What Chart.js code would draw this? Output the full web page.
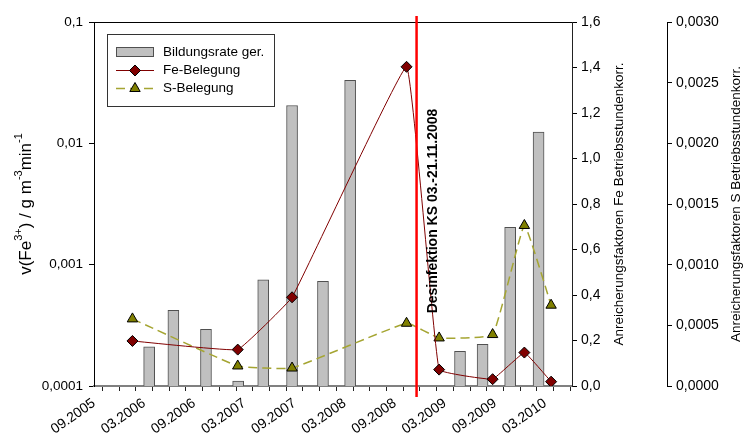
<!DOCTYPE html>
<html><head><meta charset="utf-8">
<script src="https://cdn.jsdelivr.net/npm/chart.js@4/dist/chart.umd.min.js"></script>
<style>html,body{margin:0;padding:0;background:#fff;}#wrap{width:744px;height:440px;position:relative;}</style>
</head><body><div id="wrap"><canvas id="c" width="744" height="440"></canvas></div>
<script>
// X axis: months counted from 09.2005
const xTickLabels = ['09.2005','03.2006','09.2006','03.2007','09.2007','03.2008','09.2008','03.2009','09.2009','03.2010'];
const barMonths = [6.6, 9.5, 13.4, 17.25, 20.25, 23.7, 27.4, 30.65, 43.8, 46.5, 49.8, 53.2];
const bildungsrate = [2.1e-4, 4.2e-4, 2.93e-4, 1.1e-4, 7.5e-4, 2.05e-2, 7.3e-4, 3.3e-2, 1.93e-4, 2.2e-4, 2.03e-3, 1.24e-2];
const probeMonths = [4.6, 17.2, 23.7, 37.4, 41.3, 47.7, 51.5, 54.7];
const feBelegung = [0.198, 0.160, 0.390, 1.403, 0.072, 0.030, 0.147, 0.019];
const sBelegung = [0.000553, 0.000165, 0.000148, 0.000517, 0.000396, 0.000424, 0.001323, 0.000666];
const logTicks = [0.0001, 0.001, 0.01, 0.1];
const desinfektionMonat = 38.6;
const desinfektionText = 'Desinfektion KS 03.-21.11.2008';
const titleLeft = [['v(Fe',0],['3+',1],[') / g m',0],['-3',1],['min',0],['-1',1]];
const titleFe = 'Anreicherungsfaktoren Fe Betriebsstundenkorr.';
const titleS = 'Anreicherungsfaktoren S Betriebsstundenkorr.';

const FONT = '"Liberation Sans", Arial, sans-serif';
Chart.defaults.font.family = FONT;
Chart.defaults.font.size = 13;
Chart.defaults.color = '#000';

const decorPlugin = {
  id: 'decor',
  beforeDatasetsDraw(chart) {
    const ctx = chart.ctx, a = chart.chartArea;
    ctx.save();
    ctx.strokeStyle = '#000'; ctx.lineWidth = 1;
    ctx.beginPath(); ctx.moveTo(a.left, a.top + 0.5); ctx.lineTo(a.right, a.top + 0.5); ctx.stroke();
    ctx.restore();
  },
  afterDatasetsDraw(chart) {
    const ctx = chart.ctx, a = chart.chartArea;
    const xs = chart.scales.x;
    const px = xs.getPixelForValue(desinfektionMonat);
    ctx.save();
    ctx.strokeStyle = '#ff0000'; ctx.lineWidth = 2.5;
    ctx.beginPath(); ctx.moveTo(px, a.top - 6); ctx.lineTo(px, a.bottom + 11); ctx.stroke();
    ctx.fillStyle = '#000';
    ctx.font = 'bold 14px ' + FONT;
    ctx.textAlign = 'center'; ctx.textBaseline = 'middle';
    ctx.translate(px + 17, 211); ctx.rotate(-Math.PI / 2);
    ctx.fillText(desinfektionText, 0, 0);
    ctx.restore();

    // legend
    ctx.save();
    const lx = a.left + 13, ly = a.top + 12, lw = 167, lh = 72;
    ctx.fillStyle = '#fff'; ctx.fillRect(lx, ly, lw, lh);
    ctx.strokeStyle = '#333'; ctx.lineWidth = 1;
    ctx.strokeRect(lx + 0.5, ly + 0.5, lw, lh);
    const ds = chart.data.datasets;
    const rows = [ly + 18, ly + 36.5, ly + 54.5];
    ctx.font = '13.5px ' + FONT; ctx.textAlign = 'left'; ctx.textBaseline = 'middle';
    ds.forEach((d, i) => {
      const y = rows[i];
      const sx = lx + 9, ex = lx + 47, cx = (sx + ex) / 2;
      if (d.type === 'bar' || !d.type) {
        ctx.fillStyle = d.backgroundColor; ctx.fillRect(sx, y - 5, ex - sx, 10);
        ctx.strokeStyle = d.borderColor; ctx.lineWidth = 1; ctx.strokeRect(sx + 0.5, y - 4.5, ex - sx - 1, 9);
      } else {
        ctx.strokeStyle = d.borderColor; ctx.lineWidth = d.borderWidth;
        ctx.setLineDash(d.borderDash || []);
        ctx.beginPath(); ctx.moveTo(sx, y); ctx.lineTo(ex, y); ctx.stroke();
        ctx.setLineDash([]);
        ctx.fillStyle = d.pointBackgroundColor; ctx.strokeStyle = d.pointBorderColor; ctx.lineWidth = 1;
        Chart.helpers.drawPoint(ctx, {pointStyle: d.pointStyle, radius: d.pointRadius, borderWidth: 1}, cx, y);
      }
      ctx.fillStyle = '#000';
      ctx.fillText(d.label, lx + 56, y);
    });
    ctx.restore();
  },
  afterDraw(chart) {
    const ctx = chart.ctx, a = chart.chartArea;
    const cy = (a.top + a.bottom) / 2;
    ctx.save();
    ctx.fillStyle = '#000';
    ctx.translate(26, cy); ctx.rotate(-Math.PI / 2);
    ctx.textBaseline = 'middle'; ctx.textAlign = 'left';
    let w = 0;
    titleLeft.forEach(([t, sup]) => { ctx.font = (sup ? '11px ' : '17px ') + FONT; w += ctx.measureText(t).width; });
    let x = -w / 2;
    titleLeft.forEach(([t, sup]) => {
      ctx.font = (sup ? '11px ' : '17px ') + FONT;
      ctx.fillText(t, x, sup ? -7 : 0);
      x += ctx.measureText(t).width;
    });
    ctx.restore();
    [[titleFe, 619], [titleS, 736]].forEach(([t, tx]) => {
      ctx.save();
      ctx.fillStyle = '#000'; ctx.font = '13.5px ' + FONT;
      ctx.textAlign = 'center'; ctx.textBaseline = 'middle';
      ctx.translate(tx, cy); ctx.rotate(-Math.PI / 2);
      ctx.fillText(t, 0, 0);
      ctx.restore();
    });
  }
};

const xMinor = [];
for (let m = 0; m <= 56; m += 2) xMinor.push(m);

new Chart(document.getElementById('c'), {
  type: 'bar',
  data: {
    datasets: [
      {
        type: 'bar', label: 'Bildungsrate ger.', yAxisID: 'y', xAxisID: 'x', order: 3,
        data: barMonths.map((m, i) => ({x: m, y: bildungsrate[i]})),
        backgroundColor: '#c0c0c0', borderColor: '#505050', borderWidth: 1, barThickness: 11
      },
      {
        type: 'line', label: 'Fe-Belegung', yAxisID: 'yFe', xAxisID: 'x', order: 1,
        data: probeMonths.map((m, i) => ({x: m, y: feBelegung[i]})),
        borderColor: '#800000', borderWidth: 1, tension: 0.07,
        pointStyle: 'rectRot', pointRadius: 5.5, pointBackgroundColor: '#800000',
        pointBorderColor: '#000', pointBorderWidth: 1
      },
      {
        type: 'line', label: 'S-Belegung', yAxisID: 'yS', xAxisID: 'x', order: 2,
        data: probeMonths.map((m, i) => ({x: m, y: sBelegung[i]})),
        borderColor: '#a5a532', borderWidth: 1.5, borderDash: [9, 5], tension: 0.1,
        pointStyle: 'triangle', pointRadius: 6, pointBackgroundColor: '#808000',
        pointBorderColor: '#000', pointBorderWidth: 1
      }
    ]
  },
  options: {
    responsive: false, animation: false, devicePixelRatio: 1,
    layout: {padding: {top: 22, left: 0, right: 0, bottom: 0}},
    plugins: {legend: {display: false}, tooltip: {enabled: false}},
    scales: {
      x: {
        type: 'linear', position: 'bottom', min: 0, max: 57.2, offset: false,
        afterBuildTicks: s => { s.ticks = xMinor.map(v => ({value: v})); },
        afterFit: s => { s.height = 54; },
        ticks: {
          autoSkip: false, minRotation: 35, maxRotation: 35, padding: 4,
          font: {size: 14}, color: '#000',
          callback: v => (v % 6 === 0 ? xTickLabels[v / 6] : '')
        },
        grid: {drawOnChartArea: false, drawTicks: true, tickLength: 5, color: '#222'},
        border: {color: '#808080', width: 2}
      },
      y: {
        type: 'logarithmic', position: 'left', min: 0.0001, max: 0.1,
        afterBuildTicks: s => { s.ticks = logTicks.map(v => ({value: v})); },
        afterFit: s => { s.width = 94; },
        ticks: {padding: 6, color: '#000', font: {size: 13.5}, callback: v => String(v).replace('.', ',')},
        grid: {drawOnChartArea: false, tickLength: 5, color: '#000'},
        border: {color: '#000', width: 1}
      },
      yFe: {
        type: 'linear', position: 'right', min: 0, max: 1.6, weight: 0,
        afterFit: s => { s.width = 95; },
        ticks: {stepSize: 0.2, padding: 4, color: '#000', font: {size: 14}, callback: v => v.toFixed(1).replace('.', ',')},
        grid: {drawOnChartArea: false, tickLength: 5, color: '#000'},
        border: {color: '#222', width: 1}
      },
      yS: {
        type: 'linear', position: 'right', min: 0, max: 0.003, weight: 1,
        afterFit: s => { s.width = 77; },
        ticks: {stepSize: 0.0005, padding: 4, color: '#000', font: {size: 14}, callback: v => v.toFixed(4).replace('.', ',')},
        grid: {drawOnChartArea: false, tickLength: 5, color: '#000'},
        border: {color: '#000', width: 1}
      }
    }
  },
  plugins: [decorPlugin]
});
</script></body></html>
